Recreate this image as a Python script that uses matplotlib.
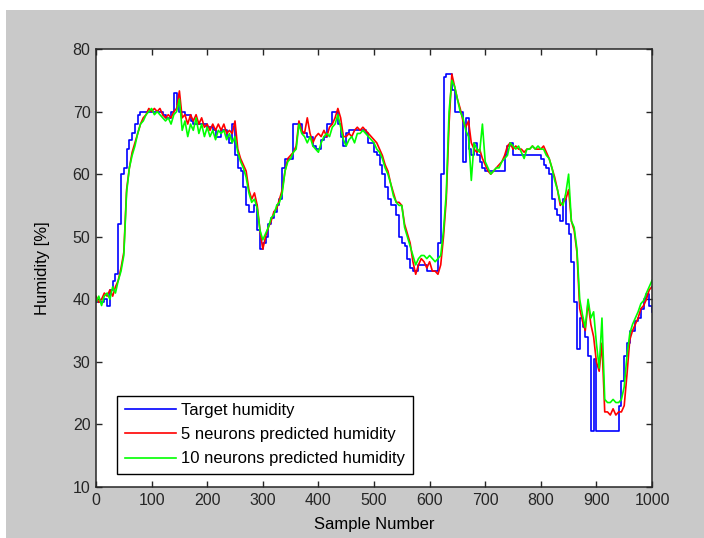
import numpy as np
import matplotlib.pyplot as plt
from matplotlib.patches import Rectangle

# sample index of every reading (one every 5 samples)
samples = np.arange(0, 1001, 5)

# target humidity [%]
target = [
    39.5, 39.5, 39.5, 40, 39, 41.5, 43, 44, 52, 60,
    61, 64, 65.5, 66.5, 68, 69.5, 70, 70, 70, 70,
    70, 70, 70, 70, 69.5, 69, 69, 70, 73, 71,
    70, 70, 69.5, 69.5, 68.5, 68, 68, 68, 68, 68,
    67.5, 67.5, 67, 66, 66, 67, 67, 66, 65, 68,
    63, 61, 60.5, 58, 55, 54, 54, 55, 51, 48,
    49, 50, 52, 53, 54, 55, 56, 61, 62.5, 62.5,
    62.5, 68, 68, 68, 66.5, 66.5, 66, 66, 64.5, 64,
    64, 65.5, 66, 68, 68, 70, 70, 68, 66, 64.5,
    66.5, 67, 67, 67, 67, 67, 67, 66.5, 65, 65,
    63.5, 63, 61.5, 60, 58, 56, 55, 55, 53.5, 50,
    49, 48.5, 46.5, 45, 44.5, 44.5, 45.5, 45.5, 45.5, 44.5,
    44.5, 44.5, 44.5, 49, 60, 75.5, 76, 76, 73.5, 70,
    70, 70, 62, 69, 64, 63, 65, 63, 62, 61,
    60.5, 60.5, 60.5, 60.5, 60.5, 60.5, 60.5, 63, 64.5, 65,
    63, 63, 63, 63, 63, 63, 63, 63, 63, 63,
    62.5, 61.5, 61, 60, 56, 54.5, 53.5, 52.5, 56, 52,
    50.5, 46, 39.5, 32, 37, 35.5, 34, 31, 19, 30.5,
    19, 19, 19, 19, 19, 19, 19, 19, 23, 27,
    31, 33, 35, 35, 36.5, 37, 38.5, 40, 40.8, 39,
    38,
]

# 5 neurons prediction
pred_5 = [
    40.5, 39.5, 40, 41, 40.5, 41.5, 40.5, 42, 43, 45,
    47.5, 57.5, 61, 63.5, 65, 66.5, 68, 69, 69.5, 70.5,
    70, 70.5, 70, 70.5, 69.5, 69, 69.5, 69, 70, 70.5,
    73.3, 69, 69.5, 68, 69.5, 68.5, 69.5, 68, 69, 67.5,
    68, 67, 68, 67, 68, 67, 68, 66.5, 67, 66.5,
    68.5, 64, 62.5, 61.5, 60.5, 57.5, 56, 57, 55, 51,
    48, 50, 51.5, 52.5, 54, 54.5, 56, 57.5, 60.5, 62.5,
    63, 63.5, 64.5, 68.5, 67, 66.5, 69, 66.5, 65, 66,
    66.5, 66, 67, 66, 67.5, 68, 69, 70.5, 69, 66,
    66, 66.5, 66, 67, 67.5, 67, 67.5, 67, 66.5, 66,
    65.5, 65, 64, 63, 61.5, 60.5, 58.5, 57, 55.5, 55.5,
    55, 52, 50.5, 49, 46, 44, 45.5, 46.5, 46, 45,
    46, 44.5, 44.5, 44, 45.5, 50, 56, 68, 76, 74,
    72, 70.5, 68.5, 67.5, 68.5, 65, 64, 63.5, 64, 62.5,
    61.5, 60.5, 60, 60.5, 61, 61.5, 62, 63, 64.5, 65,
    64, 64.5, 64, 64, 63.5, 64, 64, 64.5, 64, 64,
    64, 64.5, 63.5, 62.5, 61, 59.5, 57.5, 55, 55.5, 56,
    57.5, 52.5, 51, 47.5, 38.5, 36.5, 35, 39.5, 36, 34,
    30, 28.5, 33, 22, 22, 21.5, 22.5, 21.5, 22, 22,
    23, 28, 33.5, 35, 36, 37, 38.5, 39, 40, 41.5,
    42,
]

# 10 neurons prediction
pred_10 = [
    39.5, 40.5, 39, 40.5, 41, 40, 42, 41, 43, 44.5,
    47, 57, 61, 63, 64.5, 66.5, 68, 68.5, 69.5, 70,
    70.5, 69.5, 70, 69.5, 69, 68.5, 69, 68, 69.5, 70,
    72, 67, 68.5, 66, 68, 67, 69, 66.5, 68, 66,
    67.5, 66, 67, 65.5, 67, 66.5, 67, 65.5, 66.5, 65,
    66, 63.5, 62, 61, 59.5, 57, 55.5, 56, 54.5, 51,
    49.5, 50.5, 51.5, 53, 53.5, 55, 55.5, 57, 60.5, 62,
    62.5, 63.5, 64, 68, 66.5, 66, 65, 66, 64.5, 64,
    63.5, 65, 66, 66.5, 66, 67.5, 68, 69.5, 67.5, 65.5,
    64.5, 65.5, 66, 65, 66.5, 66.5, 67, 66.5, 66, 65.5,
    65, 64, 63.5, 62.5, 61, 60, 58.5, 56.5, 55.5, 55,
    55, 51.5, 50, 48.5, 47, 45.5, 46.5, 47, 47, 46.5,
    47, 46.5, 46, 46.5, 47, 51, 57, 70, 75, 74,
    72, 70, 69, 67, 66, 59, 65, 64, 63.5, 68,
    62, 61, 60, 60.5, 61, 61, 62, 62.5, 63, 65,
    64.5, 64, 64.5, 63.5, 62.5, 64, 64, 64.5, 64, 64.5,
    64, 64, 63, 62.5, 61, 59, 57.5, 55.5, 55, 57,
    60, 52.5, 51.5, 48, 40, 37.5, 35.5, 40, 37, 38,
    33, 29, 37, 24, 23.5, 23.5, 24, 23.5, 23.5, 24,
    26, 31, 34.5, 36, 37, 38, 39.3, 39.8, 41, 42,
    43,
]

plt.rcParams['font.family'] = ['Liberation Sans', 'DejaVu Sans']

fig = plt.figure(figsize=(7.04, 5.38), dpi=100, facecolor='white')
# grey figure area (white strip left and top in the original screenshot)
fig.patches.append(Rectangle((6 / 704, 0), 1, 528 / 538, transform=fig.transFigure,
                             facecolor='#c9c9c9', edgecolor='none', zorder=-1))

ax = fig.add_axes([96 / 704, 51 / 538, 556 / 704, 438 / 538])
ax.plot(samples, target, color='#0000ff', lw=1.2, drawstyle='steps-post', label='Target humidity')
ax.plot(samples, pred_5, color='#ff0000', lw=1.2, label='5 neurons predicted humidity')
ax.plot(samples, pred_10, color='#00ff00', lw=1.2, label='10 neurons predicted humidity')

ax.set_xlim(0, 1000)
ax.set_ylim(10, 80)
ax.set_xticks(np.arange(0, 1001, 100))
ax.set_yticks(np.arange(10, 81, 10))
ax.tick_params(direction='in', top=True, right=True, length=4, width=1,
               labelsize=11.5, pad=4, colors='#262626')
for sp in ax.spines.values():
    sp.set_linewidth(1.1)
    sp.set_color('#262626')

ax.set_xlabel('Sample Number', fontsize=12, labelpad=7)
ax.set_ylabel('Humidity [%]', fontsize=12, labelpad=16)

leg = ax.legend(loc='lower left', bbox_to_anchor=(0.038, 0.03), borderaxespad=0,
                fontsize=12, fancybox=False, framealpha=1, edgecolor='black',
                handlelength=3.1, handletextpad=0.3, labelspacing=0.55,
                borderpad=0.45)
leg.get_frame().set_linewidth(1)

fig.savefig('out.png', dpi=100, facecolor=fig.get_facecolor())
